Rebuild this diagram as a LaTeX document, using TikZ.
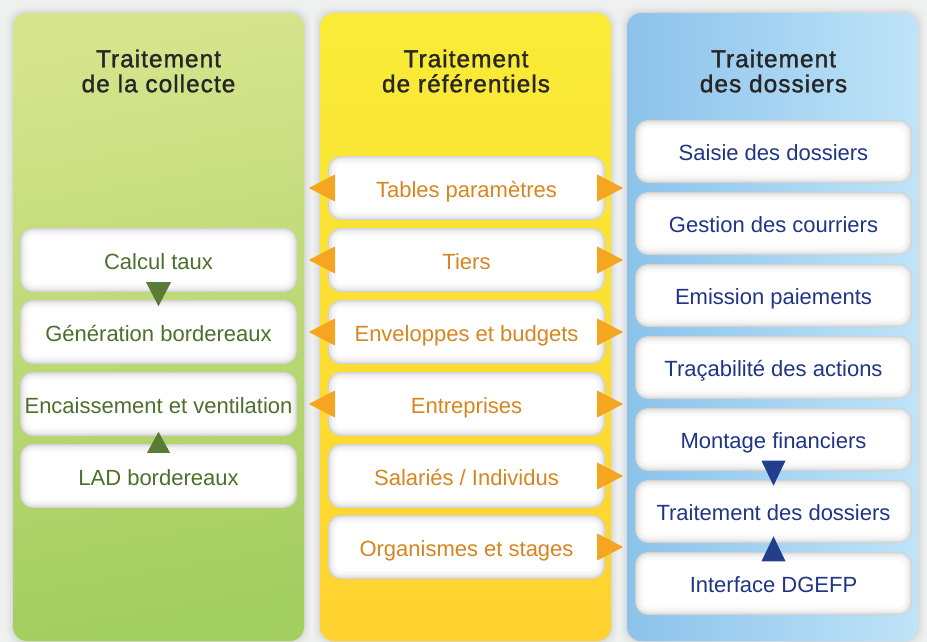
\documentclass[tikz,border=0pt]{standalone}
\usepackage{fontspec}
\setmainfont{Liberation Sans}
\newfontfamily\titlefont[FakeBold=1.3, LetterSpace=4]{Liberation Sans}
\usetikzlibrary{calc}
\definecolor{bg}{HTML}{EFF0F0}
\definecolor{gtop}{HTML}{D6E48C}
\definecolor{gbot}{HTML}{A3CE60}
\definecolor{ytop}{HTML}{F9EC37}
\definecolor{ybot}{HTML}{FFD22F}
\definecolor{bleft}{HTML}{8CC2EA}
\definecolor{bright}{HTML}{BFE4F8}
\definecolor{gtext}{HTML}{4E6E2C}
\definecolor{otext}{HTML}{D6861F}
\definecolor{btext}{HTML}{1F3585}
\definecolor{gtri}{HTML}{5A7B36}
\definecolor{otri}{HTML}{F6A520}
\definecolor{btri}{HTML}{223F8E}
\definecolor{ttext}{HTML}{262626}
\definecolor{boxedge}{HTML}{D2D2D2}
\tikzset{
  colshadow/.style={black, rounded corners=16pt},
  card/.style={minimum width=277pt, minimum height=64pt, inner sep=0pt,
    text height=18pt, text depth=0pt,
    rounded corners=13pt, fill=boxedge,
    font=\fontsize{22}{26}\selectfont,
    path picture={
      \foreach \i/\r in {1/12,2/11,3/10,4/9,5/8,6/7,7/6}{
        \fill[white, opacity=0.3, rounded corners=\r pt]
          ([shift={(\i pt,\i pt)}]path picture bounding box.south west) rectangle
          ([shift={(-\i pt,-\i pt)}]path picture bounding box.north east);}
      \fill[white, rounded corners=5pt]
          ([shift={(8pt,8pt)}]path picture bounding box.south west) rectangle
          ([shift={(-8pt,-8pt)}]path picture bounding box.north east);
    }},
  gcard/.style={card, text=gtext},
  ocard/.style={card, text=otext},
  bcard/.style={card, text=btext, minimum height=63pt},
  title/.style={align=center, inner sep=0pt, text=ttext,
    font=\titlefont\fontsize{24.5}{25}\selectfont},
  otrif/.style={fill=otri},
  gtrif/.style={fill=gtri},
  btrif/.style={fill=btri}
}
\begin{document}
\begin{tikzpicture}[x=1pt,y=-1pt]
\useasboundingbox (0,0) rectangle (927,642);
\fill[bg] (0,0) rectangle (927,642);
% column shadows
\foreach \a in {13,320,627}{
  \foreach \s/\o in {7/0.012,5/0.018,3/0.025,1.5/0.03}{
    \fill[colshadow, opacity=\o] (\a-\s,13-\s) rectangle (\a+291+\s,641+\s);
  }
}
% columns
\shade[rounded corners=14pt, top color=gtop, bottom color=gbot, shading angle=10] (13,13) rectangle (304,641);
\shade[rounded corners=14pt, top color=ytop, bottom color=ybot] (320,13) rectangle (611,641);
\shade[rounded corners=14pt, left color=bleft, right color=bright] (627,13) rectangle (918,641);
% titles
\node[title] (t1) at (158.5,71) {Traitement\\de la collecte};
\node[title] (t2) at (466,71) {Traitement\\de référentiels};
\node[title] (t3) at (773.5,71) {Traitement\\des dossiers};
% left column
\node[gcard] (c1) at (158.5,260) {Calcul taux};
\node[gcard] (c2) at (158.5,332) {Génération bordereaux};
\node[gcard] (c3) at (158.5,404) {Encaissement et ventilation};
\node[gcard] (c4) at (158.5,476) {LAD bordereaux};
% middle column
\node[ocard] (r1) at (466.5,188) {Tables paramètres};
\node[ocard] (r2) at (466.5,260) {Tiers};
\node[ocard] (r3) at (466.5,332) {Enveloppes et budgets};
\node[ocard] (r4) at (466.5,404) {Entreprises};
\node[ocard] (r5) at (466.5,476) {Salariés / Individus};
\node[ocard] (r6) at (466.5,547) {Organismes et stages};
% right column
\node[bcard] (d1) at (773.5,151.5) {Saisie des dossiers};
\node[bcard] (d2) at (773.5,223.5) {Gestion des courriers};
\node[bcard] (d3) at (773.5,295.5) {Emission paiements};
\node[bcard] (d4) at (773.5,367.5) {Traçabilité des actions};
\node[bcard] (d5) at (773.5,439.5) {Montage financiers};
\node[bcard] (d6) at (773.5,511.5) {Traitement des dossiers};
\node[bcard] (d7) at (773.5,583.5) {Interface DGEFP};
% orange triangles
\foreach \n in {r1,r2,r3,r4}{
  \fill[otrif] ([xshift=-19pt]\n.west) -- ([xshift=7pt,yshift=13.5pt]\n.west)
    -- ([xshift=7pt,yshift=-13.5pt]\n.west) -- cycle;
}
\foreach \n in {r1,r2,r3,r4,r5,r6}{
  \fill[otrif] ([xshift=18pt]\n.east) -- ([xshift=-8pt,yshift=13.5pt]\n.east)
    -- ([xshift=-8pt,yshift=-13.5pt]\n.east) -- cycle;
}
% green triangles
\fill[gtrif] ([xshift=-12.5pt,yshift=10pt]c1.south) -- ([xshift=12.5pt,yshift=10pt]c1.south)
  -- ([yshift=-14pt]c1.south) -- cycle;
\fill[gtrif] ([xshift=-11.5pt,yshift=-9pt]c4.north) -- ([xshift=11.5pt,yshift=-9pt]c4.north)
  -- ([yshift=12pt]c4.north) -- cycle;
% blue triangles
\fill[btrif] ([xshift=-12pt,yshift=10.5pt]d5.south) -- ([xshift=12pt,yshift=10.5pt]d5.south)
  -- ([yshift=-14.5pt]d5.south) -- cycle;
\fill[btrif] ([xshift=-12pt,yshift=-9.5pt]d7.north) -- ([xshift=12pt,yshift=-9.5pt]d7.north)
  -- ([yshift=15.5pt]d7.north) -- cycle;
\end{tikzpicture}
\end{document}
